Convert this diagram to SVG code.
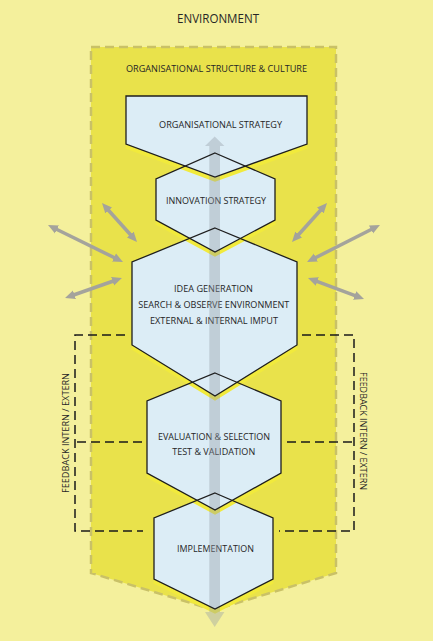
<svg xmlns="http://www.w3.org/2000/svg" width="433" height="641" viewBox="0 0 433 641">
<style>
text{font-family:"Open Sans","Noto Sans","Liberation Sans",sans-serif;fill:#262626;text-anchor:middle}
.fill{fill:#dcedf6;stroke:none}
.band{fill:none;stroke:#f1ea3c;stroke-width:4;stroke-linejoin:miter}
.outline{fill:none;stroke:#1e1e1e;stroke-width:1.3;stroke-linejoin:miter}
.side{stroke:#a4a39c;stroke-width:3.5;fill:none;marker-start:url(#ah);marker-end:url(#ah)}
.fb{stroke:#1a1a1a;stroke-width:1.5;fill:none;stroke-dasharray:9 5}
.lbl{font-size:9.6px}
</style>
<defs>
<marker id="ah" markerUnits="userSpaceOnUse" markerWidth="11" markerHeight="10" refX="4" refY="5" orient="auto-start-reverse">
<path d="M0,0.5 L10,5 L0,9.5 z" fill="#a4a39c"/>
</marker>
</defs>
<rect width="433" height="641" fill="#f4f09c"/>
<text x="218" y="22.7" style="font-size:13px" textLength="82" lengthAdjust="spacingAndGlyphs">ENVIRONMENT</text>
<g id="org-structure-culture">
<polygon points="91,47 336,47 336,573 214,610 91,573" fill="#e9e24b" stroke="#c9c167" stroke-width="2.5" stroke-dasharray="9 5"/>
<text class="lbl" x="216.5" y="72.3" textLength="181" lengthAdjust="spacingAndGlyphs">ORGANISATIONAL STRUCTURE &amp; CULTURE</text>
</g>
<g id="implementation">
<polygon class="fill" points="215,493 273,518 273,579 215,609 154,579 154,518"/>
<polyline class="band" points="154,581.5 215,611.5 273,581.5"/>
<text class="lbl" x="215.5" y="551.7" textLength="77" lengthAdjust="spacingAndGlyphs">IMPLEMENTATION</text>
</g>
<g id="evaluation-selection">
<polygon class="fill" points="215,373 281,401 281,473 215,510 147,473 147,401"/>
<polyline class="band" points="147,475.5 215,512.5 281,475.5"/>
<text class="lbl" x="214" y="439.5" textLength="112" lengthAdjust="spacingAndGlyphs">EVALUATION &amp; SELECTION</text>
<text class="lbl" x="213.7" y="455" textLength="83" lengthAdjust="spacingAndGlyphs">TEST &amp; VALIDATION</text>
</g>
<g id="idea-generation">
<polygon class="fill" points="215,228 297,262 297,345 215,396 132,345 132,262"/>
<polyline class="band" points="132,347.5 215,398.5 297,347.5"/>
<text class="lbl" x="213.5" y="291.7" textLength="79" lengthAdjust="spacingAndGlyphs">IDEA GENERATION</text>
<text class="lbl" x="213.8" y="308" textLength="151" lengthAdjust="spacingAndGlyphs">SEARCH &amp; OBSERVE ENVIRONMENT</text>
<text class="lbl" x="214" y="324" textLength="128" lengthAdjust="spacingAndGlyphs">EXTERNAL &amp; INTERNAL IMPUT</text>
</g>
<g id="innovation-strategy">
<polygon class="fill" points="215,153 275,179 275,220 215,252 156,220 156,179"/>
<polyline class="band" points="156,222.5 215,254.5 275,222.5"/>
<text class="lbl" x="216" y="204" textLength="100" lengthAdjust="spacingAndGlyphs">INNOVATION STRATEGY</text>
</g>
<g id="organisational-strategy">
<polygon class="fill" points="126,96 307,96 307,144 215,177 126,144"/>
<polyline class="band" points="126,146.5 215,179.5 307,146.5"/>
<text class="lbl" x="220.6" y="128" textLength="123" lengthAdjust="spacingAndGlyphs">ORGANISATIONAL STRATEGY</text>
</g>
<g id="connectors">
<path d="M209.3,146 L205,146 L214.7,136.5 L224.4,146 L220,146 L220,612 L224.4,612 L214.7,627 L205,612 L209.3,612 Z" fill="#949ca6" fill-opacity="0.38"/>
<line class="side" x1="106" y1="207.5" x2="133" y2="237.5"/>
<line class="side" x1="53.4" y1="227.7" x2="117.6" y2="259.3"/>
<line class="side" x1="70.7" y1="296" x2="116.3" y2="280"/>
<line class="side" x1="323" y1="207.5" x2="296" y2="237.5"/>
<line class="side" x1="374.6" y1="227.7" x2="312.4" y2="259.3"/>
<line class="side" x1="313.6" y1="280.1" x2="358.4" y2="296.9"/>
<path class="fb" d="M125,335 L75,335 L75,531 L143,531"/>
<path class="fb" d="M142,442 L75,442"/>
<path class="fb" d="M302,335 L354,335 L354,531 L279,531"/>
<path class="fb" d="M287,442 L354,442"/>
<text class="lbl" transform="translate(68.5,433) rotate(-90)" textLength="120" lengthAdjust="spacingAndGlyphs">FEEDBACK  INTERN / EXTERN</text>
<text class="lbl" transform="translate(359.5,431) rotate(90)" textLength="118" lengthAdjust="spacingAndGlyphs">FEEDBACK  INTERN / EXTERN</text>
</g>
<g id="node-outlines">
<polygon class="outline" points="126,96 307,96 307,144 215,177 126,144"/>
<polygon class="outline" points="215,153 275,179 275,220 215,252 156,220 156,179"/>
<polygon class="outline" points="215,228 297,262 297,345 215,396 132,345 132,262"/>
<polygon class="outline" points="215,373 281,401 281,473 215,510 147,473 147,401"/>
<polygon class="outline" points="215,493 273,518 273,579 215,609 154,579 154,518"/>
</g>
</svg>
